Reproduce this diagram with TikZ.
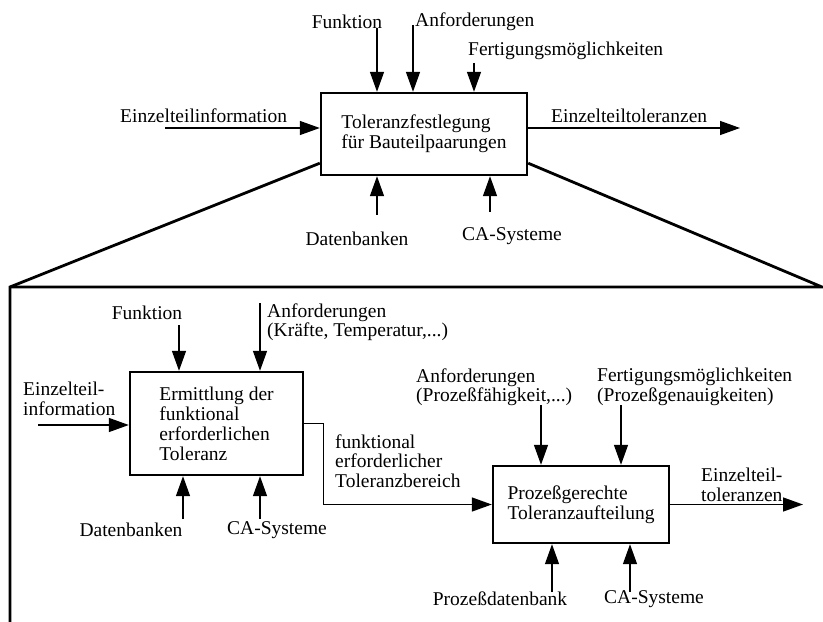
\documentclass[tikz,border=0pt]{standalone}
\usepackage{fontspec}
\setmainfont{Liberation Serif}
\usetikzlibrary{arrows.meta}
\begin{document}
\begin{tikzpicture}[x=1bp,y=-1bp,
  txt/.style={inner sep=0pt, font=\fontsize{19.5bp}{19.5bp}\selectfont, align=left},
  box/.style={draw, line width=2.4bp, inner sep=0pt, font=\fontsize{19.5bp}{20bp}\selectfont, align=left},
  arr/.style={line width=1.4bp, -{Triangle[length=20bp,width=14bp]}},
  frame/.style={line width=2.8bp, line join=miter}]
\useasboundingbox (0,0) rectangle (823,622);

% ---------- upper level: overall activity ----------
\node[box, minimum width=206bp, minimum height=82bp] (T) at (424,134)
  {Toleranzfestlegung\\für Bauteilpaarungen};

\node[txt] (tF) at (347,22) {Funktion};
\node[txt, anchor=west] (tA) at (415,22) {Anforderungen};
\node[txt, anchor=west] (tM) at (468,51) {Fertigungsmöglichkeiten};
\node[txt, anchor=west] (tI) at (120,116) {Einzelteilinformation};
\node[txt, anchor=west] (tO) at (551,116) {Einzelteiltoleranzen};
\node[txt] (tD) at (357,239) {Datenbanken};
\node[txt] (tC) at (512,236) {CA-Systeme};

\coordinate (pF) at (377,28);
\coordinate (pA) at (413,25);
\coordinate (pM) at (474,63);
\coordinate (pI) at (165,128);
\coordinate (pO) at (740,128);
\coordinate (pD) at (377,215);
\coordinate (pC) at (490,212);

\draw[arr] (pF) -- (pF |- T.north);
\draw[arr] (pA) -- (pA |- T.north);
\draw[arr] (pM) -- (pM |- T.north);
\draw[arr] (pI) -- (pI -| T.west);
\draw[arr] (T.east |- pO) -- (pO);
\draw[arr] (pD) -- (pD |- T.south);
\draw[arr] (pC) -- (pC |- T.south);

% ---------- expansion frame ----------
\path (T.south west) ++(0,-13) coordinate (dL);
\path (T.south east) ++(0,-13) coordinate (dR);
\coordinate (fL) at (10,287);
\coordinate (fR) at (822,287);
\coordinate (fB) at (10,622);
\draw[frame] (dL) -- (fL) -- (fB);
\draw[frame] (fL) -- (fR) -- (dR);

% ---------- lower level: decomposition ----------
\node[box, minimum width=173bp, minimum height=103bp] (E) at (216.5,423.5)
  {Ermittlung der\\funktional\\erforderlichen\\Toleranz};
\node[box, minimum width=176bp, minimum height=77bp] (P) at (581,504.5)
  {Prozeßgerechte\\Toleranzaufteilung};

\node[txt] (lF) at (147,313) {Funktion};
\node[txt, anchor=west] (lA) at (267,322) {Anforderungen\\(Kräfte, Temperatur,...)};
\node[txt, anchor=west] (lI) at (23,399) {Einzelteil-\\information};
\node[txt] (lD) at (131,530) {Datenbanken};
\node[txt] (lC) at (277,530) {CA-Systeme};
\node[txt, anchor=west] (lR) at (335,461) {funktional\\erforderlicher\\Toleranzbereich};
\node[txt, anchor=west] (lA2) at (416,387) {Anforderungen\\(Prozeßfähigkeit,...)};
\node[txt, anchor=west] (lM2) at (597,387) {Fertigungsmöglichkeiten\\(Prozeßgenauigkeiten)};
\node[txt, anchor=west] (lO2) at (701,485) {Einzelteil-\\toleranzen};
\node[txt] (lPD) at (500,599) {Prozeßdatenbank};
\node[txt] (lPC) at (654,599) {CA-Systeme};

\coordinate (qF) at (179,325);
\coordinate (qA) at (260,303);
\coordinate (qI) at (38,425);
\coordinate (qD) at (183,519);
\coordinate (qC) at (260,519);
\coordinate (qA2) at (541,405);
\coordinate (qM2) at (621,405);
\coordinate (qO) at (803,504.5);
\coordinate (qPD) at (552,592);
\coordinate (qPC) at (630,592);

\draw[arr] (qF) -- (qF |- E.north);
\draw[arr] (qA) -- (qA |- E.north);
\draw[arr] (qI) -- (qI -| E.west);
\draw[arr] (qD) -- (qD |- E.south);
\draw[arr] (qC) -- (qC |- E.south);
\draw[arr] (E.east) -- ++(19,0) |- (P.west);
\draw[arr] (qA2) -- (qA2 |- P.north);
\draw[arr] (qM2) -- (qM2 |- P.north);
\draw[arr] (P.east) -- (qO);
\draw[arr] (qPD) -- (qPD |- P.south);
\draw[arr] (qPC) -- (qPC |- P.south);
\end{tikzpicture}
\end{document}
